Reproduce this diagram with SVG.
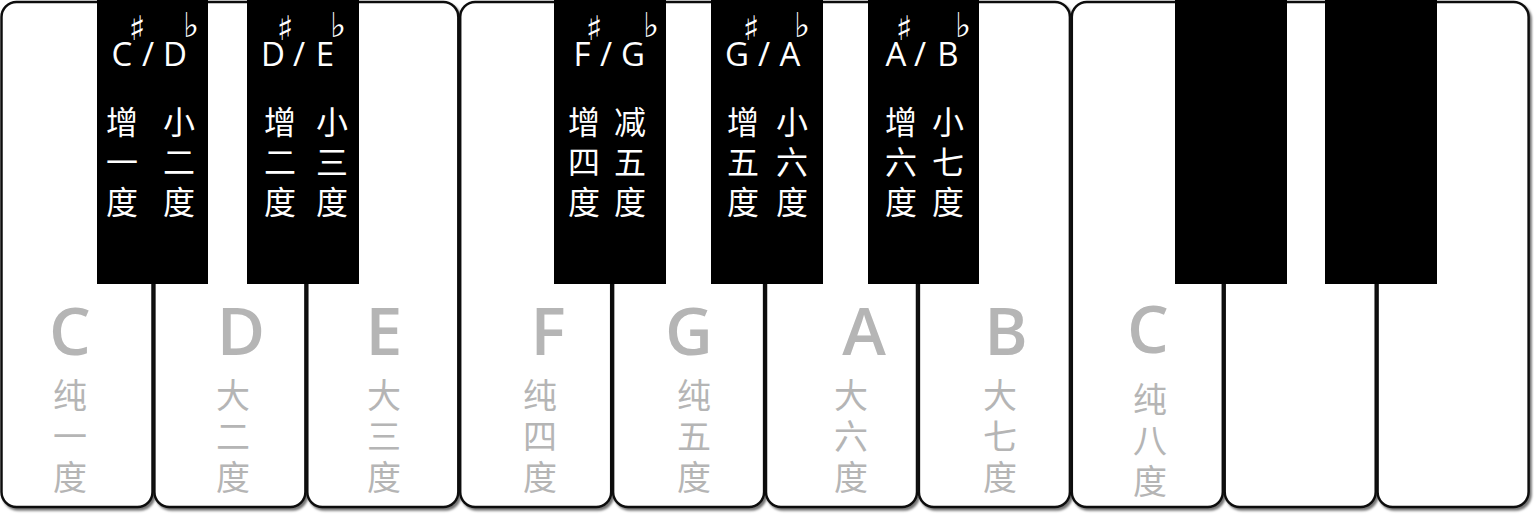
<svg xmlns="http://www.w3.org/2000/svg" width="1536" height="515" viewBox="0 0 1536 515">
<defs>
<filter id="sh" x="-5%" y="-5%" width="115%" height="115%">
<feDropShadow dx="2" dy="2.5" stdDeviation="1" flood-color="#000" flood-opacity="0.55"/>
</filter>
</defs>
<style>
.wk{fill:#fff;stroke:#111;stroke-width:2.5;filter:url(#sh)}
.bk{fill:#000}
.wl{fill:#b5b5b5;font-family:"Open Sans","Liberation Sans",sans-serif;font-weight:600;font-size:66px;text-anchor:middle}
.wc{fill:#b5b5b5;font-family:"Noto Sans CJK SC",sans-serif;font-size:34px;text-anchor:middle}
.bl{fill:#fff;font-family:"Open Sans","Liberation Sans",sans-serif;font-size:33px;text-anchor:middle}
.acc{fill:#fff;font-family:"DejaVu Sans",sans-serif;font-size:34px;text-anchor:middle}
.bc{fill:#fff;font-family:"Noto Sans CJK SC",sans-serif;font-size:32px;text-anchor:middle}
</style>
<g id="white-keys">
<rect id="wk-C" class="wk" x="1.5" y="2" width="151" height="505" rx="15"/>
<rect id="wk-D" class="wk" x="154.4" y="2" width="151" height="505" rx="15"/>
<rect id="wk-E" class="wk" x="307.3" y="2" width="151" height="505" rx="15"/>
<rect id="wk-F" class="wk" x="460.2" y="2" width="151" height="505" rx="15"/>
<rect id="wk-G" class="wk" x="613.1" y="2" width="151" height="505" rx="15"/>
<rect id="wk-A" class="wk" x="766" y="2" width="151" height="505" rx="15"/>
<rect id="wk-B" class="wk" x="918.9" y="2" width="151" height="505" rx="15"/>
<rect id="wk-C2" class="wk" x="1071.8" y="2" width="151" height="505" rx="15"/>
<rect id="wk-D2" class="wk" x="1224.7" y="2" width="151" height="505" rx="15"/>
<rect id="wk-E2" class="wk" x="1377.6" y="2" width="151" height="505" rx="15"/>
</g>
<g id="white-labels">
<g id="lbl-C"><text class="wl" x="70" y="355">C</text><text class="wc" x="70" y="408">纯</text><text class="wc" x="70" y="449">一</text><text class="wc" x="70" y="490">度</text></g>
<g id="lbl-D"><text class="wl" x="241" y="355">D</text><text class="wc" x="233" y="408">大</text><text class="wc" x="233" y="449">二</text><text class="wc" x="233" y="490">度</text></g>
<g id="lbl-E"><text class="wl" x="384" y="355">E</text><text class="wc" x="384" y="408">大</text><text class="wc" x="384" y="449">三</text><text class="wc" x="384" y="490">度</text></g>
<g id="lbl-F"><text class="wl" x="548" y="355">F</text><text class="wc" x="540" y="408">纯</text><text class="wc" x="540" y="449">四</text><text class="wc" x="540" y="490">度</text></g>
<g id="lbl-G"><text class="wl" x="689" y="355">G</text><text class="wc" x="694" y="408">纯</text><text class="wc" x="694" y="449">五</text><text class="wc" x="694" y="490">度</text></g>
<g id="lbl-A"><text class="wl" x="864" y="355">A</text><text class="wc" x="851" y="408">大</text><text class="wc" x="851" y="449">六</text><text class="wc" x="851" y="490">度</text></g>
<g id="lbl-B"><text class="wl" x="1006" y="355">B</text><text class="wc" x="1000" y="408">大</text><text class="wc" x="1000" y="449">七</text><text class="wc" x="1000" y="490">度</text></g>
<g id="lbl-C2"><text class="wl" x="1148" y="353">C</text><text class="wc" x="1150" y="412">纯</text><text class="wc" x="1150" y="453">八</text><text class="wc" x="1150" y="494">度</text></g>
</g>
<g id="black-keys">
<g id="bk-Cs">
<rect class="bk" x="97" y="0" width="111" height="284"/>
<text class="bl" x="122" y="66">C</text><text class="acc" x="137" y="40">♯</text><text class="bl" x="148" y="66">/</text><text class="bl" x="175" y="66">D</text><text class="acc" x="191" y="37">♭</text>
<text class="bc" x="122" y="134">增</text><text class="bc" x="122" y="174">一</text><text class="bc" x="122" y="214">度</text>
<text class="bc" x="179" y="134">小</text><text class="bc" x="179" y="174">二</text><text class="bc" x="179" y="214">度</text>
</g>
<g id="bk-Ds">
<rect class="bk" x="247" y="0" width="112" height="284"/>
<text class="bl" x="273" y="66">D</text><text class="acc" x="285" y="40">♯</text><text class="bl" x="299" y="66">/</text><text class="bl" x="325" y="66">E</text><text class="acc" x="338" y="37">♭</text>
<text class="bc" x="280" y="134">增</text><text class="bc" x="280" y="174">二</text><text class="bc" x="280" y="214">度</text>
<text class="bc" x="332" y="134">小</text><text class="bc" x="332" y="174">三</text><text class="bc" x="332" y="214">度</text>
</g>
<g id="bk-Fs">
<rect class="bk" x="554" y="0" width="112" height="284"/>
<text class="bl" x="582" y="66">F</text><text class="acc" x="594" y="40">♯</text><text class="bl" x="606" y="66">/</text><text class="bl" x="633" y="66">G</text><text class="acc" x="651" y="37">♭</text>
<text class="bc" x="584" y="134">增</text><text class="bc" x="584" y="174">四</text><text class="bc" x="584" y="214">度</text>
<text class="bc" x="630" y="134">减</text><text class="bc" x="630" y="174">五</text><text class="bc" x="630" y="214">度</text>
</g>
<g id="bk-Gs">
<rect class="bk" x="711" y="0" width="112" height="284"/>
<text class="bl" x="737" y="66">G</text><text class="acc" x="751" y="40">♯</text><text class="bl" x="764" y="66">/</text><text class="bl" x="790" y="66">A</text><text class="acc" x="802" y="37">♭</text>
<text class="bc" x="743" y="134">增</text><text class="bc" x="743" y="174">五</text><text class="bc" x="743" y="214">度</text>
<text class="bc" x="792" y="134">小</text><text class="bc" x="792" y="174">六</text><text class="bc" x="792" y="214">度</text>
</g>
<g id="bk-As">
<rect class="bk" x="868" y="0" width="111" height="284"/>
<text class="bl" x="896" y="66">A</text><text class="acc" x="904" y="40">♯</text><text class="bl" x="920" y="66">/</text><text class="bl" x="948" y="66">B</text><text class="acc" x="963" y="37">♭</text>
<text class="bc" x="901" y="134">增</text><text class="bc" x="901" y="174">六</text><text class="bc" x="901" y="214">度</text>
<text class="bc" x="948" y="134">小</text><text class="bc" x="948" y="174">七</text><text class="bc" x="948" y="214">度</text>
</g>
<rect id="bk-Cs2" class="bk" x="1175" y="0" width="112" height="284"/>
<rect id="bk-Ds2" class="bk" x="1325" y="0" width="112" height="284"/>
</g>
</svg>
